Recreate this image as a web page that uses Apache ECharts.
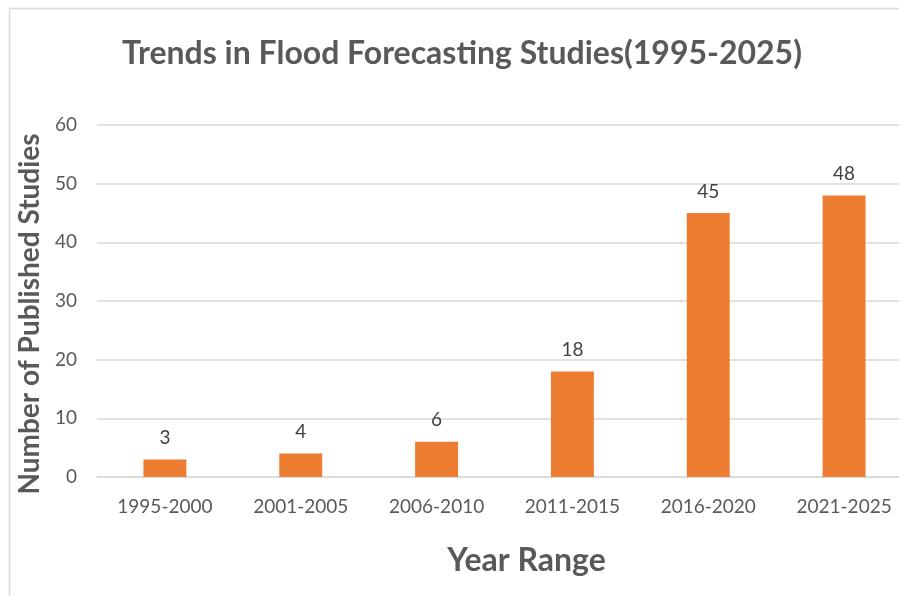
<!DOCTYPE html>
<html>
<head>
<meta charset="utf-8">
<script src="https://cdn.jsdelivr.net/npm/echarts@6/dist/echarts.min.js"></script>
<style>
  html, body { margin: 0; padding: 0; background: #ffffff; }
  #chart { width: 899px; height: 596px; }
</style>
</head>
<body>
<div id="chart"></div>
<script>
// Publication counts per period
const yearRanges = ['1995-2000', '2001-2005', '2006-2010', '2011-2015', '2016-2020', '2021-2025'];
const studyCounts = [3, 4, 6, 18, 45, 48];
const yTicks = [0, 10, 20, 30, 40, 50, 60];

const textGray = '#595959';
const fontFamily = 'Lato, "Open Sans", sans-serif';

const chart = echarts.init(document.getElementById('chart'), null, { renderer: 'canvas' });

chart.setOption({
  backgroundColor: '#ffffff',
  animation: false,
  textStyle: { fontFamily: fontFamily },
  title: {
    text: 'Trends in Flood Forecasting Studies(1995-2025)',
    left: 457,
    top: 33,
    textAlign: 'center',
    textStyle: { fontFamily: fontFamily, fontWeight: 'bold', fontSize: 32, color: textGray }
  },
  graphic: [{
    type: 'rect',
    shape: { x: 9.5, y: 8.5, width: 1000, height: 700 },
    style: { fill: 'none', stroke: '#d9d9d9', lineWidth: 1.5 },
    silent: true
  }],
  grid: { left: 97, top: 125, width: 815, height: 352, containLabel: false, outerBoundsMode: 'none' },
  xAxis: {
    type: 'category',
    data: yearRanges,
    name: 'Year Range',
    nameLocation: 'middle',
    nameGap: 68,
    nameTextStyle: { fontFamily: fontFamily, fontWeight: 'bold', fontSize: 32, color: textGray, padding: [0, 0, 0, 44] },
    axisLine: { lineStyle: { color: '#d9d9d9', width: 1.5 } },
    axisTick: { show: false },
    axisLabel: { fontSize: 19, color: textGray, margin: 20 }
  },
  yAxis: {
    type: 'value',
    min: yTicks[0],
    max: yTicks[yTicks.length - 1],
    interval: yTicks[1] - yTicks[0],
    name: 'Number of Published Studies',
    nameLocation: 'middle',
    nameGap: 47,
    nameRotate: 90,
    nameTextStyle: { fontFamily: fontFamily, fontWeight: 'bold', fontSize: 28, color: textGray, padding: [0, 26, 0, 0] },
    axisLine: { show: false },
    axisTick: { show: false },
    splitLine: { lineStyle: { color: '#d9d9d9', width: 1.5 } },
    axisLabel: { fontSize: 19, color: textGray, margin: 20 }
  },
  series: [{
    type: 'bar',
    data: studyCounts,
    barWidth: '31.6%',
    itemStyle: { color: '#ED7D31' },
    label: {
      show: true,
      position: 'top',
      distance: 12,
      fontSize: 19,
      color: '#404040'
    }
  }]
});
</script>
</body>
</html>
